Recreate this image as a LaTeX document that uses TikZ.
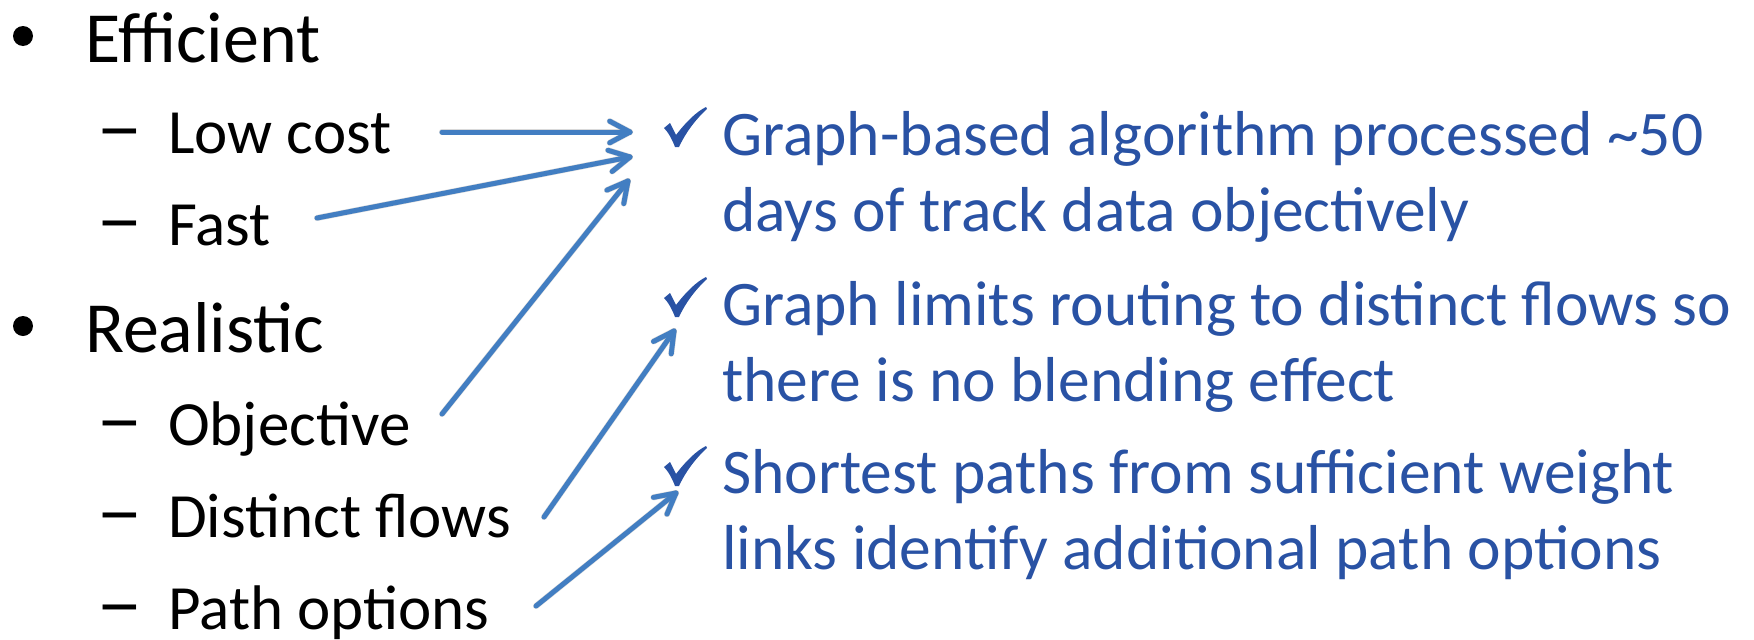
\documentclass[tikz,border=0pt]{standalone}
\usepackage{fontspec}
\usepackage{graphicx}
\setmainfont{Carlito}
\usetikzlibrary{calc}
\definecolor{txtblue}{RGB}{41,82,164}
\definecolor{arrblue}{RGB}{66,126,194}
\tikzset{
  lvlone/.style={anchor=base west, inner sep=0pt, font=\fontsize{72}{80}\selectfont},
  lvltwo/.style={anchor=base west, inner sep=0pt, font=\fontsize{63}{72}\selectfont},
  dashtxt/.style={anchor=base west, inner sep=0pt, font=\fontsize{72}{80}\selectfont},
  bul/.style={circle, fill=black, inner sep=0pt, minimum size=20pt},
  rtxt/.style={anchor=base west, inner sep=0pt, text=txtblue, font=\fontsize{63.5}{72}\selectfont},
  conn/.style={line width=5pt, arrblue, line cap=round, line join=round},
  connshadow/.style={line width=6pt, black, opacity=0.15, line cap=round, line join=round},
  chk/.pic={\fill[txtblue] (0,21) -- (6,16) -- (12,28) .. controls (22,15) and (32,5) .. (42,0) -- (43,2) .. controls (32,12) and (22,25) .. (15,40) -- (11,40) .. controls (8,32) and (4,25) .. cycle;}
}
\newcommand{\widedash}{\scalebox{1.3}[1.1]{–}}
\begin{document}
\begin{tikzpicture}[x=1pt,y=-1pt]
\useasboundingbox (0,0) rectangle (1754,640);
% left column
\node[bul] (b1) at (23,36) {};
\node[lvlone] (eff) at (85,62) {Efficient};
\node[dashtxt] (d1) at (96,153) {\widedash};
\node[lvltwo] (low) at (168,153) {Low cost};
\node[dashtxt] (d2) at (96,245) {\widedash};
\node[lvltwo] (fast) at (168,245) {Fast};
\node[bul] (b2) at (23,326) {};
\node[lvlone] (real) at (85,352) {Realistic};
\node[dashtxt] (d3) at (96,445) {\widedash};
\node[lvltwo] (obj) at (168,445) {Objective};
\node[dashtxt] (d4) at (96,537) {\widedash};
\node[lvltwo] (dist) at (168,537) {Distinct flows};
\node[dashtxt] (d5) at (96,629) {\widedash};
\node[lvltwo] (path) at (168,629) {Path options};
% right column
\pic at (664,107) {chk};
\node[rtxt] (r1a) at (722,155) {Graph-based algorithm processed \textasciitilde 50};
\node[rtxt] (r1b) at (722,231) {days of track data objectively};
\pic at (664,277) {chk};
\node[rtxt] (r2a) at (722,325) {Graph limits routing to distinct flows so};
\node[rtxt] (r2b) at (722,401) {there is no blending effect};
\pic at (664,446) {chk};
\node[rtxt] (r3a) at (722,493) {Shortest paths from sufficient weight};
\node[rtxt] (r3b) at (722,569) {links identify additional path options};
% connector ends
\coordinate (s1) at (442,132);
\coordinate (t1) at (630,132);
\coordinate (s2) at (317,218);
\coordinate (t2) at (630,157);
\coordinate (s3) at (442,414);
\coordinate (t3) at (628,181);
\coordinate (s4) at (544,517);
\coordinate (t4) at (674,331);
\coordinate (s5) at (536,606);
\coordinate (t5) at (676,493);
\foreach \s/\t in {s1/t1,s2/t2,s3/t3,s4/t4,s5/t5}{
  \begin{scope}[shift={(2,3)}]
  \draw[connshadow] (\s) -- (\t);
  \draw[connshadow] ($(\t)!23pt!28:(\s)$) -- (\t) -- ($(\t)!23pt!-28:(\s)$);
  \end{scope}
}
\foreach \s/\t in {s1/t1,s2/t2,s3/t3,s4/t4,s5/t5}{
  \draw[conn] (\s) -- (\t);
  \draw[conn] ($(\t)!23pt!28:(\s)$) -- (\t) -- ($(\t)!23pt!-28:(\s)$);
}
\end{tikzpicture}
\end{document}
